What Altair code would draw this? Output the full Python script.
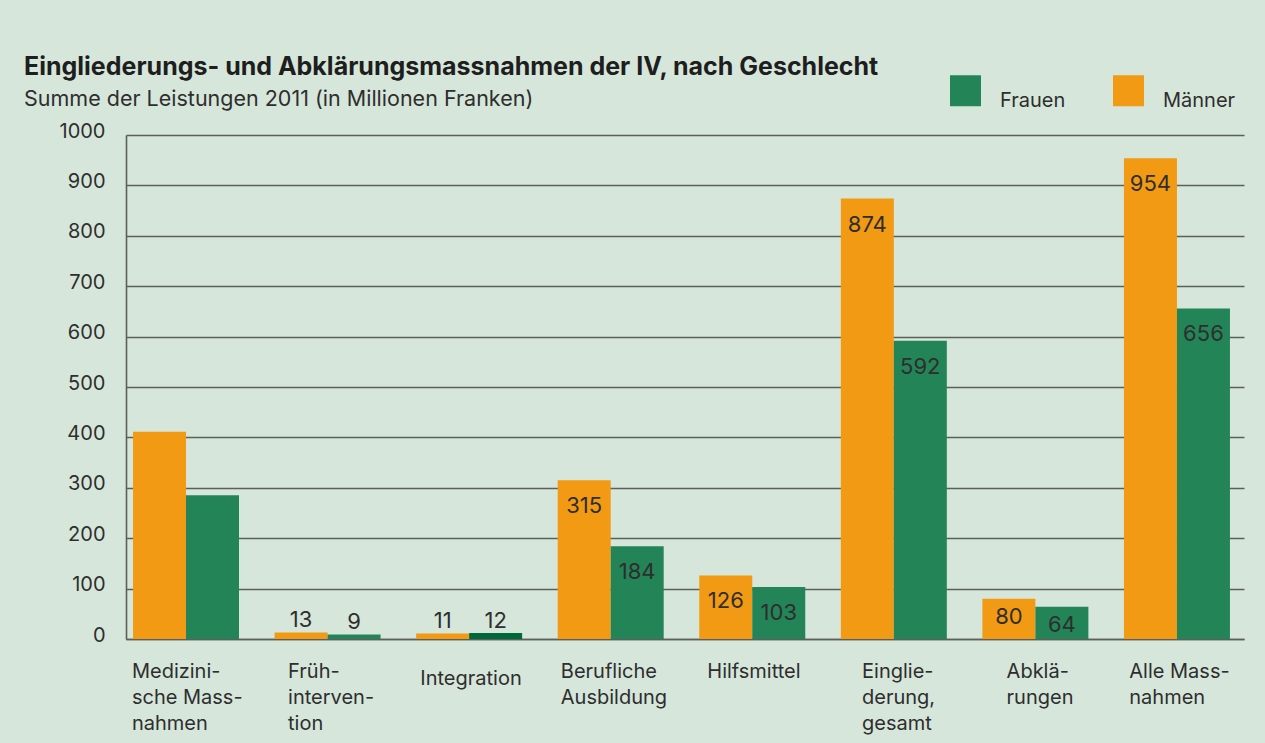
import altair as alt
import pandas as pd

FONT = "Inter"
ORANGE = "#F29A14"
GREEN = "#238458"
DARK_GREEN = "#00693A"
BG = "#D6E6DA"
GRID = "#5c5f5c"
TEXT = "#2e2e2e"

categories = [
    "Medizini-|sche Mass-|nahmen",
    "Früh-|interven-|tion",
    "Integration",
    "Berufliche|Ausbildung",
    "Hilfsmittel",
    "Einglie-|derung,|gesamt",
    "Abklä-|rungen",
    "Alle Mass-|nahmen",
]
maenner = [411, 13, 11, 315, 126, 874, 80, 954]
frauen = [285, 9, 12, 184, 103, 592, 64, 656]
labelled = [False, True, True, True, True, True, True, True]
y_ticks = list(range(0, 1001, 100))

rows = []
for c, m, f, s in zip(categories, maenner, frauen, labelled):
    rows.append({"cat": c, "sex": "Männer", "value": m, "show": s})
    rows.append({"cat": c, "sex": "Frauen", "value": f, "show": s})
df = pd.DataFrame(rows)


# rough text-width estimate (px at 20px) to centre left-aligned label blocks
def est_width(line):
    narrow = {"i": 5, "l": 5, "j": 5, "I": 6, "f": 7, "t": 7, "r": 7.5, "-": 7.5, ",": 5, " ": 5.5}
    wide = {"M": 17.5, "m": 17.5, "w": 15}
    w = 0
    for ch in line:
        if ch in narrow:
            w += narrow[ch]
        elif ch in wide:
            w += wide[ch]
        elif ch.isupper():
            w += 13
        else:
            w += 11.5
    return w * 1.1


offset_conditions = []
for c in categories:
    bw = max(est_width(l) for l in c.split("|"))
    offset_conditions.append({"test": f"datum.value == '{c}'", "value": round(-bw / 2 + 7, 1)})

x_enc = alt.X(
    "cat:N",
    sort=categories,
    title=None,
    scale=alt.Scale(paddingInner=0.2513, paddingOuter=0.0744, align=0.333),
    axis=alt.Axis(
        labelExpr="split(datum.label, '|')",
        labelAngle=0,
        labelAlign="left",
        labelBaseline="top",
        labelPadding={"condition": {"test": "datum.value == 'Integration'", "value": 29}, "value": 22},
        labelLineHeight=26,
        labelOffset={"condition": offset_conditions, "value": 0},
        labelFont=FONT,
        labelFontSize=20,
        labelColor=TEXT,
        labelOverlap=False,
        labelBound=False,
        labelFlush=False,
        ticks=False,
        domainColor=GRID,
        domainWidth=1.6,
        grid=False,
    ),
)
xoff_enc = alt.XOffset("sex:N", sort=["Männer", "Frauen"], scale=alt.Scale(paddingInner=0, paddingOuter=0))
y_enc = alt.Y(
    "value:Q",
    title=None,
    scale=alt.Scale(domain=[0, 1000], nice=False),
    axis=alt.Axis(
        values=y_ticks,
        format="d",
        grid=True,
        gridColor=GRID,
        gridWidth=1.6,
        domainColor=GRID,
        domainWidth=1.6,
        ticks=False,
        labelPadding=21,
        labelFont=FONT,
        labelFontSize=20,
        labelColor=TEXT,
        labelBaseline="alphabetic",
        labelOffset=2,
    ),
)

base = alt.Chart(df)

bars = base.mark_bar().encode(
    x=x_enc,
    xOffset=xoff_enc,
    y=y_enc,
    color=alt.condition(
        (alt.datum.cat == "Integration") & (alt.datum.sex == "Frauen"),
        alt.value(DARK_GREEN),
        alt.Color(
            "sex:N",
            scale=alt.Scale(domain=["Frauen", "Männer"], range=[GREEN, ORANGE]),
            legend=alt.Legend(
                orient="none",
                legendX=824,
                legendY=-60,
                direction="horizontal",
                title=None,
                symbolType="square",
                symbolSize=961,
                symbolStrokeWidth=0,
                symbolOpacity=1,
                labelFont=FONT,
                labelFontSize=20,
                labelColor=TEXT,
                labelOffset=19,
                columnPadding=47,
                padding=0,
                labelBaseline="top",
            ),
        ),
    ),
)


def labels(filter_expr, dy):
    return base.transform_filter(filter_expr).mark_text(
        font=FONT, fontSize=22, color=TEXT, baseline="middle", dy=dy
    ).encode(x=alt.X("cat:N", sort=categories), xOffset=xoff_enc, y="value:Q", text="value:Q")


big = labels("datum.show && datum.value >= 100", 26)
mid = labels("datum.show && datum.value >= 50 && datum.value < 100", 18)
small = labels("datum.show && datum.value < 50", -12)

chart = (
    alt.layer(bars, big, mid, small)
    .properties(
        width=1118,
        height=504,
        autosize=alt.AutoSizeParams(type="none"),
        padding={"left": 126, "top": 135, "right": 21, "bottom": 104},
        title=alt.TitleParams(
            text="Eingliederungs- und Abklärungsmassnahmen der IV, nach Geschlecht",
            subtitle="Summe der Leistungen 2011 (in Millionen Franken)",
            anchor="start",
            frame="group",
            dx=-102,
            dy=55,
            offset=20,
            font=FONT,
            fontSize=25,
            fontWeight="bold",
            color="#1e1e1e",
            subtitleFont=FONT,
            subtitleFontSize=21.5,
            subtitleColor=TEXT,
            subtitlePadding=9,
        ),
    )
    .configure(background=BG)
    .configure_view(stroke=None)
)

chart.save("out.html", embed_options={"renderer": "svg", "actions": False})
